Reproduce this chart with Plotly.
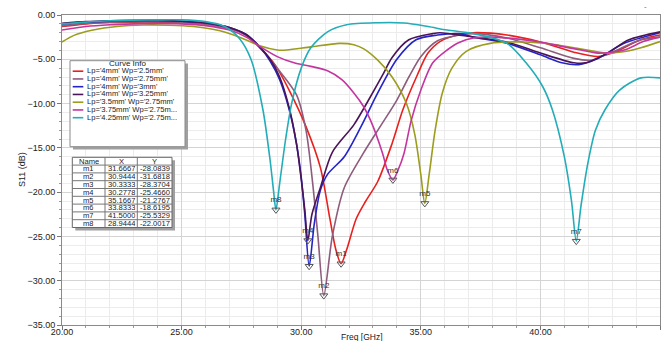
import plotly.graph_objects as go

# ---- S11 sweeps (frequency in GHz, S11 in dB) ----
names = [
    "Lp='4mm' Wp='2.5mm'",
    "Lp='4mm' Wp='2.75mm'",
    "Lp='4mm' Wp='3mm'",
    "Lp='4mm' Wp='3.25mm'",
    "Lp='3.5mm' Wp='2.75mm'",
    "Lp='3.75mm' Wp='2.75m...",
    "Lp='4.25mm' Wp='2.75m...",
]
colors = ["#e8201e", "#8e5c7c", "#2424c8", "#4a1456", "#9c9c1e", "#c3359f", "#22adb8"]

f_red = [20, 21, 22, 23, 24, 25, 26, 27, 27.7, 28.3, 28.9, 29.5, 30.2, 30.8, 31.2, 31.45, 31.6667,
         31.9, 32.3, 32.7, 33.2, 33.8, 34.25, 34.85, 35.3, 35.8, 36.6, 37.2, 38.6, 40.0, 41.4, 42.4,
         43.0, 44.2, 45]
s_red = [-1.3, -1.0, -0.85, -0.8, -0.8, -0.85, -1.0, -1.5, -2.3, -3.8, -5.6, -8.5, -12.6, -17.2,
         -23.0, -26.5, -28.0839, -26.5, -23.0, -21.0, -18.8, -14.5, -10.7, -6.8, -4.3, -3.0, -2.2,
         -2.0, -2.26, -3.05, -4.2, -4.7, -4.3, -2.8, -2.26]

f_mauve = [20, 21, 22, 23, 24, 25, 26, 27, 27.7, 28.3, 29.0, 29.8, 30.2, 30.46, 30.7, 30.9444,
           31.3, 31.8, 32.6, 33.3, 34.0, 34.5, 35.0, 35.7, 36.6, 37.2, 38.6, 40.0, 41.4, 42.1,
           43.0, 44.2, 45]
s_mauve = [-1.2, -0.95, -0.8, -0.75, -0.75, -0.8, -1.0, -1.5, -2.3, -3.7, -6.0, -9.0, -13.0,
           -18.5, -25.0, -31.6818, -25.0, -19.5, -15.6, -12.6, -9.6, -7.0, -4.7, -2.9, -2.26,
           -2.1, -2.6, -3.7, -4.9, -5.1, -4.2, -2.8, -2.5]

f_blue = [20, 21, 22, 23, 24, 25, 26, 27, 27.7, 28.3, 28.7, 29.1, 29.5, 29.8, 30.0, 30.15, 30.3333,
          30.55, 30.8, 31.1, 31.8, 32.5, 33.2, 34.0, 34.8, 35.7, 36.6, 37.2, 38.6, 40.0, 40.9,
          41.6, 42.4, 43.5, 45]
s_blue = [-1.0, -0.8, -0.7, -0.65, -0.65, -0.7, -0.9, -1.4, -2.2, -3.7, -5.2, -7.3, -10.7, -14.5,
          -18.3, -22.5, -28.3704, -23.5, -19.8, -18.0, -16.0, -12.6, -8.8, -5.0, -2.8, -2.26,
          -2.1, -2.5, -3.2, -4.5, -5.4, -5.6, -4.9, -3.2, -2.0]

f_purple = [20, 21, 22, 23, 24, 25, 26, 27, 27.7, 28.3, 28.7, 29.1, 29.5, 29.8, 30.0, 30.15,
            30.2778, 30.45, 30.8, 31.3, 32.2, 32.9, 33.4, 33.8, 34.5, 35.5, 35.8, 37.2, 38.6,
            40.0, 41.4, 41.9, 42.8, 43.7, 45]
s_purple = [-0.95, -0.75, -0.65, -0.6, -0.6, -0.7, -0.9, -1.4, -2.2, -3.7, -5.0, -7.0, -10.5,
            -14.5, -18.5, -22.0, -25.466, -22.5, -19.5, -15.5, -12.4, -9.2, -6.8, -4.8, -2.8,
            -2.1, -2.0, -2.5, -3.05, -4.3, -5.4, -5.4, -4.3, -2.8, -1.9]

f_olive = [20, 20.5, 21.3, 22.3, 23.4, 24.5, 25.5, 26.3, 26.9, 27.6, 28.3, 29.0, 29.4, 30.4, 31.6,
           32.2, 32.6, 33.2, 33.8, 34.4, 34.75, 35.0, 35.1667, 35.35, 35.6, 35.9, 36.3, 36.9,
           37.9, 39.3, 40.5, 41.4, 42.8, 43.6, 44.2, 45]
s_olive = [-3.05, -2.3, -1.7, -1.3, -1.13, -1.15, -1.3, -1.6, -2.0, -2.7, -3.5, -3.95, -3.95,
           -3.6, -3.2, -3.35, -3.8, -5.1, -7.0, -10.0, -13.5, -18.0, -21.2767, -18.0, -13.0,
           -8.8, -6.0, -4.1, -3.2, -3.05, -3.3, -3.7, -4.3, -4.1, -3.7, -3.0]

f_magenta = [20, 21, 22, 23, 24, 25, 26, 27, 27.7, 28.3, 29.0, 29.7, 30.4, 31.1, 31.7, 32.2,
             32.6, 32.9, 33.4, 33.6, 33.8333, 34.05, 34.3, 34.6, 35.0, 35.5, 36.1, 36.6, 37.2,
             37.9, 39.0, 40.0, 41.0, 41.7, 42.4, 43.5, 44.3, 45]
s_magenta = [-1.7, -1.3, -1.1, -1.0, -0.95, -1.0, -1.2, -1.7, -2.5, -3.6, -4.7, -5.4, -5.8,
             -6.3, -7.3, -8.8, -10.3, -11.9, -15.6, -17.5, -18.6195, -17.5, -15.6, -11.9, -8.5,
             -5.4, -3.95, -3.1, -2.6, -2.5, -2.7, -3.05, -3.6, -3.95, -4.3, -3.95, -3.0, -2.5]

f_cyan = [20, 21, 22, 23, 24, 25, 26, 26.8, 27.4, 27.9, 28.4, 28.7, 28.85, 28.9444, 29.1, 29.35,
          29.6, 30.0, 30.4, 31.1, 31.9, 33.2, 34.3, 35.3, 36.1, 37.2, 38.6, 39.4, 40.1, 40.5,
          41.0, 41.3, 41.5, 41.7, 42.0, 42.3, 42.7, 43.3, 44.2, 45]
s_cyan = [-1.0, -0.8, -0.65, -0.6, -0.55, -0.55, -0.75, -1.3, -2.6, -5.0, -10.7, -16.4, -20.0,
          -22.0017, -19.0, -14.0, -10.0, -6.0, -3.7, -1.9, -1.1, -0.87, -0.9, -1.3, -1.7, -2.1,
          -3.2, -5.4, -8.1, -10.7, -16.0, -21.0, -25.5329, -21.5, -16.5, -13.0, -10.7, -8.5,
          -7.1, -7.1]

freqs = [f_red, f_mauve, f_blue, f_purple, f_olive, f_magenta, f_cyan]
s11 = [s_red, s_mauve, s_blue, s_purple, s_olive, s_magenta, s_cyan]

# ---- marker table ----
m_names = ["m1", "m2", "m3", "m4", "m5", "m6", "m7", "m8"]
m_x = [31.6667, 30.9444, 30.3333, 30.2778, 35.1667, 33.8333, 41.5000, 28.9444]
m_y = [-28.0839, -31.6818, -28.3704, -25.4660, -21.2767, -18.6195, -25.5329, -22.0017]
table_header = ["Name", "X", "Y"]

W, H = 670, 341
L, R, T, B = 62, 10, 15, 16
PW, PH = W - L - R, H - T - B


def px(x):
    return (x - L) / PW


def py(y):
    return (H - B - y) / PH


FONT = "Liberation Sans, Arial, sans-serif"
TXT = "#222"

fig = go.Figure()
for f, s, n, c in zip(freqs, s11, names, colors):
    fig.add_trace(go.Scatter(x=f, y=s, mode="lines", name=n, showlegend=False,
                             line=dict(color=c, width=1.6, shape="spline", smoothing=0.8)))

fig.add_trace(go.Scatter(
    x=m_x, y=m_y, mode="markers+text", text=m_names, textposition="top center",
    textfont=dict(size=8, color="#333", family=FONT), showlegend=False,
    marker=dict(symbol="triangle-down-open", size=7, color="#555", line=dict(width=1)),
))

shapes = []
annotations = []


def rect(x0, y0, x1, y1, fill, line_color=None):
    shapes.append(dict(type="rect", xref="paper", yref="paper", layer="above",
                       x0=px(x0), x1=px(x1), y0=py(y1), y1=py(y0), fillcolor=fill,
                       line=dict(color=line_color or fill, width=1 if line_color else 0)))


def hline(x0, x1, y, color, width=1):
    shapes.append(dict(type="line", xref="paper", yref="paper", layer="above",
                       x0=px(x0), x1=px(x1), y0=py(y), y1=py(y),
                       line=dict(color=color, width=width)))


def vline(x, y0, y1, color, width=1):
    shapes.append(dict(type="line", xref="paper", yref="paper", layer="above",
                       x0=px(x), x1=px(x), y0=py(y0), y1=py(y1),
                       line=dict(color=color, width=width)))


def label(text, x, y, size, anchor="center", color=TXT, box_h=None):
    ann = dict(text=text, xref="paper", yref="paper", x=px(x), y=py(y),
               showarrow=False, xanchor=anchor, yanchor="middle", borderpad=0,
               font=dict(size=size, color=color, family=FONT))
    if box_h is not None:
        ann["height"] = box_h
    annotations.append(ann)


# ---- curve info box ----
rect(73, 63.5, 188, 149.5, "#a0a0a0")
rect(70, 60.7, 185, 146.7, "white", "#8a8a8a")
label("Curve Info", 127.5, 64.0, 8, box_h=7.5)
for i, (n, c) in enumerate(zip(names, colors)):
    yy = 71.2 + i * 7.75
    hline(72.7, 83.3, yy, c, 1.6)
    label(n, 86, yy, 7.6, "left", box_h=7.5)

# ---- marker table ----
tx0, tx1, ty0 = 72.3, 172.0, 157.3
row_h = 7.8
col_edges = [tx0, 105.0, 137.3, tx1]
n_rows = len(m_names) + 1
ty1 = ty0 + n_rows * row_h
rect(tx0 + 3, ty0 + 3, tx1 + 3, ty1 + 3, "#a0a0a0")
rect(tx0, ty0, tx1, ty1, "white", "#666")
for r in range(1, n_rows):
    hline(tx0, tx1, ty0 + r * row_h, "#777")
for cx in col_edges[1:-1]:
    vline(cx, ty0, ty1, "#777")
table_cols = [
    [table_header[0]] + m_names,
    [table_header[1]] + [f"{v:.4f}" for v in m_x],
    [table_header[2]] + [f"{v:.4f}" for v in m_y],
]
for ci, col in enumerate(table_cols):
    cx = (col_edges[ci] + col_edges[ci + 1]) / 2
    for r, t in enumerate(col):
        label(t, cx, ty0 + (r + 0.5) * row_h + 0.3, 7.6, box_h=7.5)

# ---- axis titles ----
annotations.append(dict(text="S11 (dB)", xref="paper", yref="paper", x=px(22), y=py(170),
                        showarrow=False, textangle=-90, xanchor="center", yanchor="middle",
                        font=dict(size=9, color=TXT, family=FONT)))
label("Freq [GHz]", 362, 337, 8.5)
label("-", 645, 7, 8, color="#666")

axis_common = dict(
    showline=True, linecolor="#8a8a8a", linewidth=1, mirror=True, automargin=False,
    showgrid=True, gridcolor="#d4d4d4", gridwidth=1, zeroline=False,
    ticks="outside", ticklen=4, tickcolor="#777", tickformat=".2f",
    tickfont=dict(size=9, color=TXT, family=FONT),
)
fig.update_xaxes(range=[20, 45], dtick=5, tick0=20, ticklabelstandoff=-6,
                 minor=dict(dtick=1, showgrid=True, gridcolor="#ececec", ticks="outside",
                            ticklen=2, tickcolor="#999"),
                 **axis_common)
fig.update_yaxes(range=[-35, 0], dtick=5, tick0=0,
                 minor=dict(dtick=1, showgrid=True, gridcolor="#ececec", ticks="outside",
                            ticklen=2, tickcolor="#999"),
                 **axis_common)

fig.update_layout(
    width=W, height=H, margin=dict(l=L, r=R, t=T, b=B, autoexpand=False),
    paper_bgcolor="white", plot_bgcolor="white",
    shapes=shapes, annotations=annotations, showlegend=False,
    font=dict(family=FONT),
)

fig.write_html("out.html")
